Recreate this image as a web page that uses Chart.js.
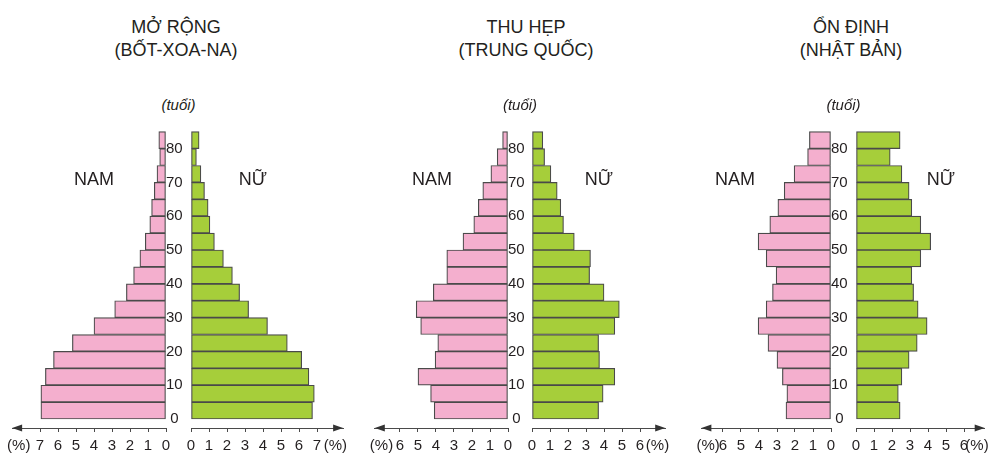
<!DOCTYPE html>
<html>
<head>
<meta charset="utf-8">
<script src="https://cdn.jsdelivr.net/npm/chart.js@4.4.0/dist/chart.umd.min.js"></script>
<style>
  body { margin: 0; background: #fff; }
  #wrap { position: relative; width: 994px; height: 453px; overflow: hidden;
          font-family: "Liberation Sans", Arial, sans-serif; color: #231f20; }
  #wrap canvas { position: absolute; }
  .txt { position: absolute; white-space: nowrap; transform: translateX(-50%); text-align: center; }
  .title { font-size: 18px; line-height: 22.5px; }
  .age { font-size: 15px; font-style: italic; }
  .sex { font-size: 18px; }
</style>
</head>
<body>
<div id="wrap"></div>
<script>
// age groups: start of each 5-year group, the last one is 80+
const ageStart = [0, 5, 10, 15, 20, 25, 30, 35, 40, 45, 50, 55, 60, 65, 70, 75, 80];
const ageTicks = [0, 10, 20, 30, 40, 50, 60, 70, 80];

// % of population, from 0-4 up to 80+
const botswanaMale   = [6.95, 6.95, 6.7, 6.25, 5.2, 4.0, 2.85, 2.2, 1.8, 1.45, 1.15, 0.9, 0.8, 0.65, 0.5, 0.35, 0.4];
const botswanaFemale = [6.75, 6.85, 6.55, 6.15, 5.35, 4.25, 3.2, 2.7, 2.3, 1.8, 1.3, 1.05, 0.95, 0.75, 0.55, 0.3, 0.45];
const chinaMale      = [4.1, 4.3, 5.0, 4.05, 3.9, 4.85, 5.1, 4.15, 3.4, 3.4, 2.5, 1.9, 1.65, 1.4, 0.95, 0.6, 0.3];
const chinaFemale    = [3.7, 3.95, 4.6, 3.75, 3.7, 4.6, 4.85, 4.0, 3.2, 3.25, 2.35, 1.75, 1.6, 1.4, 1.05, 0.7, 0.6];
const japanMale      = [2.5, 2.45, 2.7, 3.0, 3.5, 4.05, 3.6, 3.25, 3.05, 3.6, 4.05, 3.4, 2.95, 2.6, 2.05, 1.3, 1.2];
const japanFemale    = [2.45, 2.35, 2.55, 2.95, 3.4, 3.95, 3.45, 3.2, 3.1, 3.6, 4.15, 3.6, 3.1, 2.95, 2.55, 1.9, 2.45];

const botswanaTicks = [0, 1, 2, 3, 4, 5, 6, 7];
const chinaTicks    = [0, 1, 2, 3, 4, 5, 6];
const japanTicks    = [0, 1, 2, 3, 4, 5, 6];

const titles = [
  ["MỞ RỘNG", "(BỐT-XOA-NA)"],
  ["THU HẸP", "(TRUNG QUỐC)"],
  ["ỔN ĐỊNH", "(NHẬT BẢN)"]
];

const pinkFill = "#f4afce";
const greenFill = "#a6ce3a";
const darkLine = "#4a4a4a";
const textColor = "#231f20";
const unit = 18; // px per 1 %

// layout of the three pyramids (pixels / axis ends in %)
const pyramids = [
  { male: botswanaMale, female: botswanaFemale, ticks: botswanaTicks, maleZero: 166, femaleZero: 191,
    maleEnd: 8.55, femaleEnd: 8.45, titleX: 176, namX: 94, nuX: 253, title: titles[0] },
  { male: chinaMale, female: chinaFemale, ticks: chinaTicks, maleZero: 508, femaleZero: 532,
    maleEnd: 7.4, femaleEnd: 7.4, titleX: 526, namX: 432, nuX: 599, title: titles[1] },
  { male: japanMale, female: japanFemale, ticks: japanTicks, maleZero: 831, femaleZero: 856,
    maleEnd: 7.2, femaleEnd: 7.15, titleX: 851, namX: 735, nuX: 941, title: titles[2] }
];

Chart.defaults.font.family = '"Liberation Sans", Arial, sans-serif';
Chart.defaults.color = textColor;

const wrap = document.getElementById("wrap");
const canvasTop = 120;
const canvasHeight = 333;
const padTop = 11.7;

// arrow at the end of the % axis, and the (%) label
const arrowPlugin = {
  id: "arrow",
  afterDraw(chart, args, opts) {
    const ctx = chart.ctx;
    const area = chart.chartArea;
    const y = area.bottom;
    const tip = opts.male ? area.left : area.right;
    const dir = opts.male ? 1 : -1;
    ctx.save();
    ctx.fillStyle = "#333";
    ctx.beginPath();
    ctx.moveTo(tip, y);
    ctx.lineTo(tip + dir * 10, y - 3.5);
    ctx.lineTo(tip + dir * 10, y + 3.5);
    ctx.closePath();
    ctx.fill();
    ctx.font = "15px " + Chart.defaults.font.family;
    ctx.fillStyle = textColor;
    ctx.textBaseline = "middle";
    if (opts.male) {
      ctx.textAlign = "left";
      ctx.fillText("(%)", tip - 5, y + 18);
    } else {
      ctx.textAlign = "right";
      ctx.fillText("(%)", tip + 4, y + 18);
    }
    ctx.restore();
  }
};

function addText(cls, text, x, y) {
  const d = document.createElement("div");
  d.className = "txt " + cls;
  d.style.left = x + "px";
  d.style.top = y + "px";
  d.innerHTML = text;
  wrap.appendChild(d);
  return d;
}

function makeSide(p, isMale) {
  const gap = p.femaleZero - p.maleZero;
  const values = isMale ? p.male : p.female;
  const end = isMale ? p.maleEnd : p.femaleEnd;
  let left, width, padding;
  if (isMale) {
    left = Math.round(p.maleZero - end * unit - 12);
    width = p.femaleZero - left;
    padding = { left: p.maleZero - end * unit - left, right: 0, top: padTop, bottom: 0 };
  } else {
    left = p.femaleZero - 10;
    width = Math.round(10 + end * unit + 14);
    padding = { left: 10, right: width - 10 - end * unit, top: padTop, bottom: 0 };
  }
  const canvas = document.createElement("canvas");
  canvas.width = width;
  canvas.height = canvasHeight;
  canvas.style.left = left + "px";
  canvas.style.top = canvasTop + "px";
  wrap.appendChild(canvas);

  const yAxis = {
    type: "linear",
    min: -2.66,
    max: 85,
    offset: false,
    display: isMale,
    position: "right",
    afterBuildTicks: s => { s.ticks = ageTicks.map(v => ({ value: v })); },
    grid: { display: false, drawTicks: false, tickLength: 0, offset: false },
    border: { display: false },
    ticks: { padding: 0, font: { size: 15 }, crossAlign: "center", autoSkip: false }
  };
  if (isMale) {
    // age labels sit in the gap between the two halves
    yAxis.afterFit = s => { s.width = gap; };
  }

  new Chart(canvas, {
    type: "bar",
    data: {
      datasets: [{
        data: values.map((v, i) => ({ x: v, y: ageStart[i] + 2.5 })),
        backgroundColor: isMale ? pinkFill : greenFill,
        borderColor: darkLine,
        borderWidth: 1.2,
        borderSkipped: false,
        barPercentage: 1,
        categoryPercentage: 1,
        clip: false
      }]
    },
    options: {
      indexAxis: "y",
      responsive: false,
      animation: false,
      events: [],
      layout: { padding: padding },
      plugins: {
        legend: { display: false },
        tooltip: { enabled: false },
        arrow: { male: isMale }
      },
      scales: {
        x: {
          type: "linear",
          min: 0,
          max: end,
          reverse: isMale,
          afterBuildTicks: s => { s.ticks = p.ticks.map(v => ({ value: v })); },
          afterFit: s => { s.height = 25; },
          border: { display: true, color: darkLine, width: 1 },
          grid: { drawOnChartArea: false, drawTicks: true, tickLength: 4, color: darkLine },
          ticks: { padding: 5, font: { size: 15 }, maxRotation: 0, autoSkip: false }
        },
        y: yAxis
      }
    },
    plugins: [arrowPlugin]
  });
}

pyramids.forEach(p => {
  makeSide(p, true);
  makeSide(p, false);
  const mid = (p.maleZero + p.femaleZero) / 2;
  addText("title", p.title[0] + "<br>" + p.title[1], p.titleX, 16);
  addText("age", "(tuổi)", mid, 96);
  addText("sex", "NAM", p.namX, 169);
  addText("sex", "NỮ", p.nuX, 169);
});
</script>
</body>
</html>
